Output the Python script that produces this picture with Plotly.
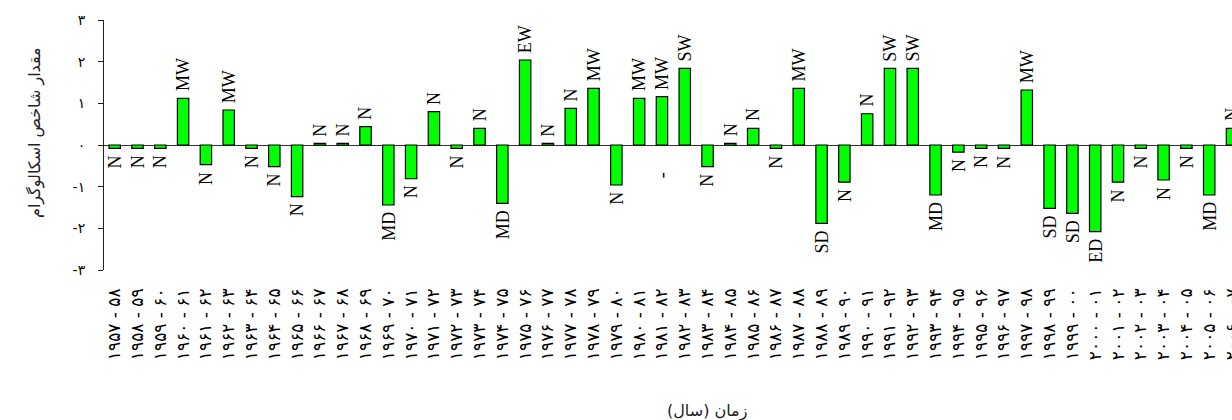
import plotly.graph_objects as go

# Water years (Persian digits) on the category axis
years = [
    "۱۹۵۷ - ۵۸", "۱۹۵۸ - ۵۹", "۱۹۵۹ - ۶۰", "۱۹۶۰ - ۶۱", "۱۹۶۱ - ۶۲",
    "۱۹۶۲ - ۶۳", "۱۹۶۳ - ۶۴", "۱۹۶۴ - ۶۵", "۱۹۶۵ - ۶۶", "۱۹۶۶ - ۶۷",
    "۱۹۶۷ - ۶۸", "۱۹۶۸ - ۶۹", "۱۹۶۹ - ۷۰", "۱۹۷۰ - ۷۱", "۱۹۷۱ - ۷۲",
    "۱۹۷۲ - ۷۳", "۱۹۷۳ - ۷۴", "۱۹۷۴ - ۷۵", "۱۹۷۵ - ۷۶", "۱۹۷۶ - ۷۷",
    "۱۹۷۷ - ۷۸", "۱۹۷۸ - ۷۹", "۱۹۷۹ - ۸۰", "۱۹۸۰ - ۸۱", "۱۹۸۱ - ۸۲",
    "۱۹۸۲ - ۸۳", "۱۹۸۳ - ۸۴", "۱۹۸۴ - ۸۵", "۱۹۸۵ - ۸۶", "۱۹۸۶ - ۸۷",
    "۱۹۸۷ - ۸۸", "۱۹۸۸ - ۸۹", "۱۹۸۹ - ۹۰", "۱۹۹۰ - ۹۱", "۱۹۹۱ - ۹۲",
    "۱۹۹۲ - ۹۳", "۱۹۹۳ - ۹۴", "۱۹۹۴ - ۹۵", "۱۹۹۵ - ۹۶", "۱۹۹۶ - ۹۷",
    "۱۹۹۷ - ۹۸", "۱۹۹۸ - ۹۹", "۱۹۹۹ - ۰۰", "۲۰۰۰ - ۰۱", "۲۰۰۱ - ۰۲",
    "۲۰۰۲ - ۰۳", "۲۰۰۳ - ۰۴", "۲۰۰۴ - ۰۵", "۲۰۰۵ - ۰۶", "۲۰۰۶ - ۰۷",
]

# Scalogram index value per water year
index_values = [
    -0.08, -0.08, -0.08, 1.12, -0.47, 0.84, -0.08, -0.52, -1.24, 0.04,
    0.04, 0.44, -1.44, -0.81, 0.80, -0.08, 0.40, -1.40, 2.04, 0.04,
    0.88, 1.36, -0.96, 1.12, 1.16, 1.84, -0.52, 0.04, 0.40, -0.08,
    1.36, -1.88, -0.89, 0.75, 1.84, 1.84, -1.20, -0.17, -0.08, -0.08,
    1.32, -1.52, -1.64, -2.08, -0.89, -0.08, -0.84, -0.08, -1.20, 0.40,
]

# Wet/dry class of each year
classes = [
    "N", "N", "N", "MW", "N", "MW", "N", "N", "N", "N",
    "N", "N", "MD", "N", "N", "N", "N", "MD", "EW", "N",
    "N", "MW", "N", "MW", "MW", "SW", "N", "N", "N", "N",
    "MW", "SD", "N", "N", "SW", "SW", "MD", "N", "N", "N",
    "MW", "SD", "SD", "ED", "N", "N", "N", "N", "MD", "N",
]

y_tick_vals = [-3, -2, -1, 0, 1, 2, 3]
y_tick_text = ["-۳", "-۲", "-۱", "۰", "۱", "۲", "۳"]

y_title = "مقدار شاخص اسکالوگرام"
x_title = "زمان (سال)"

LABEL_FONT = dict(family="Liberation Serif", size=18, color="black")

fig = go.Figure(
    go.Bar(
        x=years,
        y=index_values,
        cliponaxis=False,
        width=0.5,
        marker=dict(color="#00ff00", line=dict(color="black", width=1.2)),
        hoverinfo="x+y",
    )
)

# class labels, rotated, just beyond the end of each bar
for yr, v, c in zip(years, index_values, classes):
    fig.add_annotation(
        x=yr, y=v, xref="x", yref="y",
        text=c, textangle=-90, showarrow=False,
        xanchor="center",
        yanchor="bottom" if v >= 0 else "top",
        yshift=5 if v >= 0 else -5,
        font=LABEL_FONT,
    )

# stray hyphen mark printed under the 1981-82 bar
fig.add_annotation(
    x=years[24], y=-0.73, xref="x", yref="y",
    text="-", textangle=-90, showarrow=False,
    font=LABEL_FONT,
)

fig.add_annotation(
    x=(35 - 104) / 1128, y=(270 - 133) / 250, xref="paper", yref="paper",
    text=y_title, textangle=-90, showarrow=False,
    xanchor="center", yanchor="middle",
    font=dict(family="DejaVu Sans", size=16, color="#222"),
)
fig.add_annotation(
    x=(707 - 104) / 1128, y=(270 - 411) / 250, xref="paper", yref="paper",
    text=x_title, showarrow=False,
    xanchor="center", yanchor="middle",
    font=dict(family="DejaVu Sans", size=16, color="#222"),
)

fig.update_layout(
    width=1232,
    height=420,
    margin=dict(l=104, r=0, t=20, b=150, autoexpand=False),
    plot_bgcolor="white",
    paper_bgcolor="white",
    showlegend=False,
    xaxis=dict(
        type="category",
        range=[-0.469, 49.0],
        automargin=False,
        tickangle=-90,
        tickfont=dict(family="DejaVu Sans", size=17, color="black"),
        showgrid=False,
        showline=False,
        ticks="",
        ticklabelstandoff=14,
        zeroline=False,
    ),
    yaxis=dict(
        range=[-3, 3],
        automargin=False,
        tickvals=y_tick_vals,
        ticktext=y_tick_text,
        tickfont=dict(family="DejaVu Sans", size=14, color="black"),
        showgrid=False,
        showline=True,
        linecolor="#222",
        linewidth=1,
        ticks="outside",
        ticklen=5,
        tickcolor="#222",
        ticklabelstandoff=10,
        zeroline=True,
        zerolinecolor="#333",
        zerolinewidth=1,
    ),
)

fig.write_html("out.html")
